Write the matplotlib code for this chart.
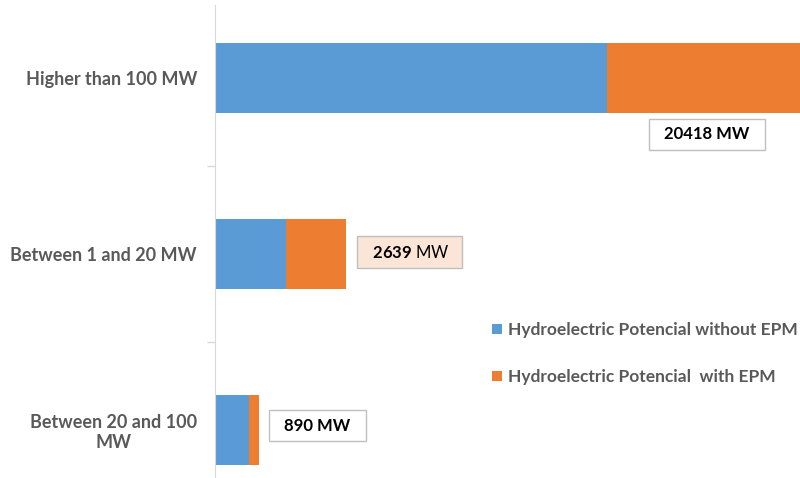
import numpy as np
import matplotlib.pyplot as plt
from matplotlib.patches import Patch

plt.rcParams['font.family'] = ['Lato', 'DejaVu Sans']
plt.rcParams['mathtext.fontset'] = 'custom'
plt.rcParams['mathtext.bf'] = 'Lato:bold'
plt.rcParams['mathtext.rm'] = 'Lato'

# potencial hidroeléctrico por rango de capacidad (MW)
categories = ["Higher than 100 MW", "Between 1 and 20 MW", "Between 20 and 100\nMW"]
without_epm = [7900, 1430, 685]
totals = [20418, 2639, 890]
with_epm = [t - w for t, w in zip(totals, without_epm)]
series_names = ["Hydroelectric Potencial without EPM", "Hydroelectric Potencial  with EPM"]

blue = "#5B9BD5"
orange = "#ED7D31"
gray_txt = "#595959"

# posiciones de las etiquetas de total (movidas a mano)
label_pos = [(9911, 0.32), (3918, 0.99), (2065, 1.975)]
label_face = ["white", "#FBE5D6", "white"]
label_fmt = ["%d MW", r"$\mathbf{%d}$ MW", "%d MW"]
label_weight = ["bold", "normal", "bold"]

fig = plt.figure(figsize=(8, 4.78), dpi=100)
ax = fig.add_axes([215 / 800, 0, 585 / 800, 473 / 478])

y = np.arange(len(categories))
ax.barh(y, without_epm, height=0.4, color=blue)
ax.barh(y, with_epm, left=without_epm, height=0.4, color=orange)

ax.set_xlim(0, 11785)
ax.set_ylim(2.273, -0.415)

for s in ["top", "right", "bottom"]:
    ax.spines[s].set_visible(False)
ax.spines["left"].set_color("#d9d9d9")
ax.xaxis.set_visible(False)

ax.set_yticks(y)
ax.set_yticklabels(categories, fontsize=13, fontweight="bold", color=gray_txt)
for lbl in ax.get_yticklabels():
    lbl.set_multialignment("center")
ax.tick_params(axis="y", which="major", length=0, pad=13)
ax.set_yticks([0.5, 1.5], minor=True)
ax.tick_params(axis="y", which="minor", length=6, color="#d9d9d9", width=1)

# etiquetas de total con recuadro
for i, (tot, (lx, ly)) in enumerate(zip(totals, label_pos)):
    ax.text(lx, ly, "  " + label_fmt[i] % tot + "  ", fontsize=12,
            fontweight=label_weight[i], color="black", ha="center", va="center",
            bbox=dict(boxstyle="square,pad=0.45", facecolor=label_face[i],
                      edgecolor="#bfbfbf", linewidth=1))

handles = [Patch(facecolor=blue), Patch(facecolor=orange)]
leg = fig.legend(handles, series_names, loc="upper left",
                 bbox_to_anchor=(492 / 800, 1 - 322 / 478), frameon=False,
                 borderpad=0, borderaxespad=0, handlelength=0.55, handleheight=0.55,
                 handletextpad=0.35, labelspacing=1.8,
                 prop=dict(size=12.5, weight="bold"))
for t in leg.get_texts():
    t.set_color(gray_txt)

fig.savefig("out.png", dpi=100)
